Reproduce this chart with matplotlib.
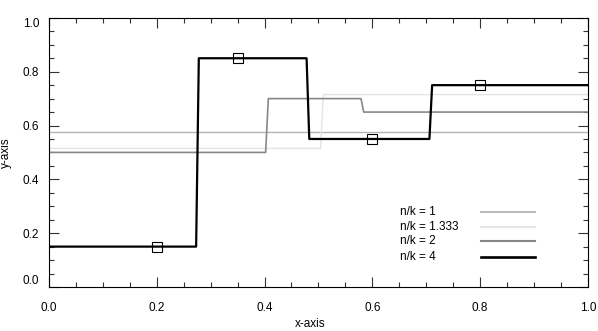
import matplotlib
matplotlib.use("Agg")
from matplotlib import pyplot as plt
from matplotlib.ticker import MultipleLocator

plt.rcParams["font.family"] = ["Liberation Sans", "DejaVu Sans"]

# step profiles
x_nk1 = [0.0, 1.0]
y_nk1 = [0.575, 0.575]

x_nk133 = [0.0, 0.504, 0.509, 1.0]
y_nk133 = [0.515, 0.515, 0.715, 0.715]

x_nk2 = [0.0, 0.402, 0.407, 0.579, 0.584, 1.0]
y_nk2 = [0.50, 0.50, 0.70, 0.70, 0.65, 0.65]

x_nk4 = [0.0, 0.273, 0.278, 0.478, 0.483, 0.706, 0.711, 1.0]
y_nk4 = [0.15, 0.15, 0.85, 0.85, 0.55, 0.55, 0.75, 0.75]

# square markers on the n/k = 4 curve
x_sq = [0.2, 0.35, 0.6, 0.8]
y_sq = [0.15, 0.85, 0.55, 0.75]

labels = ["n/k = 1", "n/k = 1.333", "n/k = 2", "n/k = 4"]
colors = ["#b4b4b4", "#e4e4e4", "#878787", "black"]
widths = [1.0, 1.0, 1.2, 1.6]

fig = plt.figure(figsize=(5.98, 3.31), dpi=100)
ax = fig.add_axes([0.082, 0.133, 0.901, 0.813])

series = [(x_nk1, y_nk1), (x_nk133, y_nk133), (x_nk2, y_nk2), (x_nk4, y_nk4)]
for (xs, ys), c, w in zip(series, colors, widths):
    ax.plot(xs, ys, color=c, lw=w)
ax.plot(x_sq, y_sq, ls="none", marker="s", ms=7, mfc="none", mec="black", mew=0.8)

# legend: text on the left, sample line on the right (no frame)
leg_y = [0.280, 0.224, 0.170, 0.112]
for lab, c, w, ly in zip(labels, colors, widths, leg_y):
    ax.text(0.651, ly, lab, transform=ax.transAxes, fontsize=8.5, va="center", ha="left")
    ax.plot([0.801, 0.902], [ly, ly], transform=ax.transAxes, color=c, lw=w + 0.3)

ax.set_xlim(0, 1)
ax.set_ylim(0, 1)
ax.xaxis.set_major_locator(MultipleLocator(0.2))
ax.xaxis.set_minor_locator(MultipleLocator(0.05))
ax.yaxis.set_major_locator(MultipleLocator(0.2))
ax.yaxis.set_minor_locator(MultipleLocator(0.05))
ax.xaxis.set_major_formatter(lambda v, p: f"{v:.1f}")
ax.yaxis.set_major_formatter(lambda v, p: f"{v:.1f}")

ax.tick_params(which="both", direction="in", top=True, right=True, labelsize=8.5, color="#333333")
ax.tick_params(which="major", length=7, width=0.8)
ax.tick_params(axis="x", which="major", pad=10.5)
ax.tick_params(axis="y", which="major", pad=7)
ax.tick_params(which="minor", length=3.5, width=0.8)
for s in ax.spines.values():
    s.set_linewidth(0.8)

ax.set_xlabel("x-axis", fontsize=8.5)
ax.xaxis.set_label_coords(0.485, -0.115)
ax.set_ylabel("y-axis", fontsize=8.5)
ax.yaxis.set_label_coords(-0.068, 0.5)

# end labels sit a little inside the frame, as in the reference
fig.canvas.draw()
for t in ax.yaxis.get_major_ticks():
    if abs(t.get_loc()) < 1e-9:
        t.label1.set_va("bottom")
    elif abs(t.get_loc() - 1) < 1e-9:
        t.label1.set_va("top")

fig.savefig("out.png", dpi=100)
